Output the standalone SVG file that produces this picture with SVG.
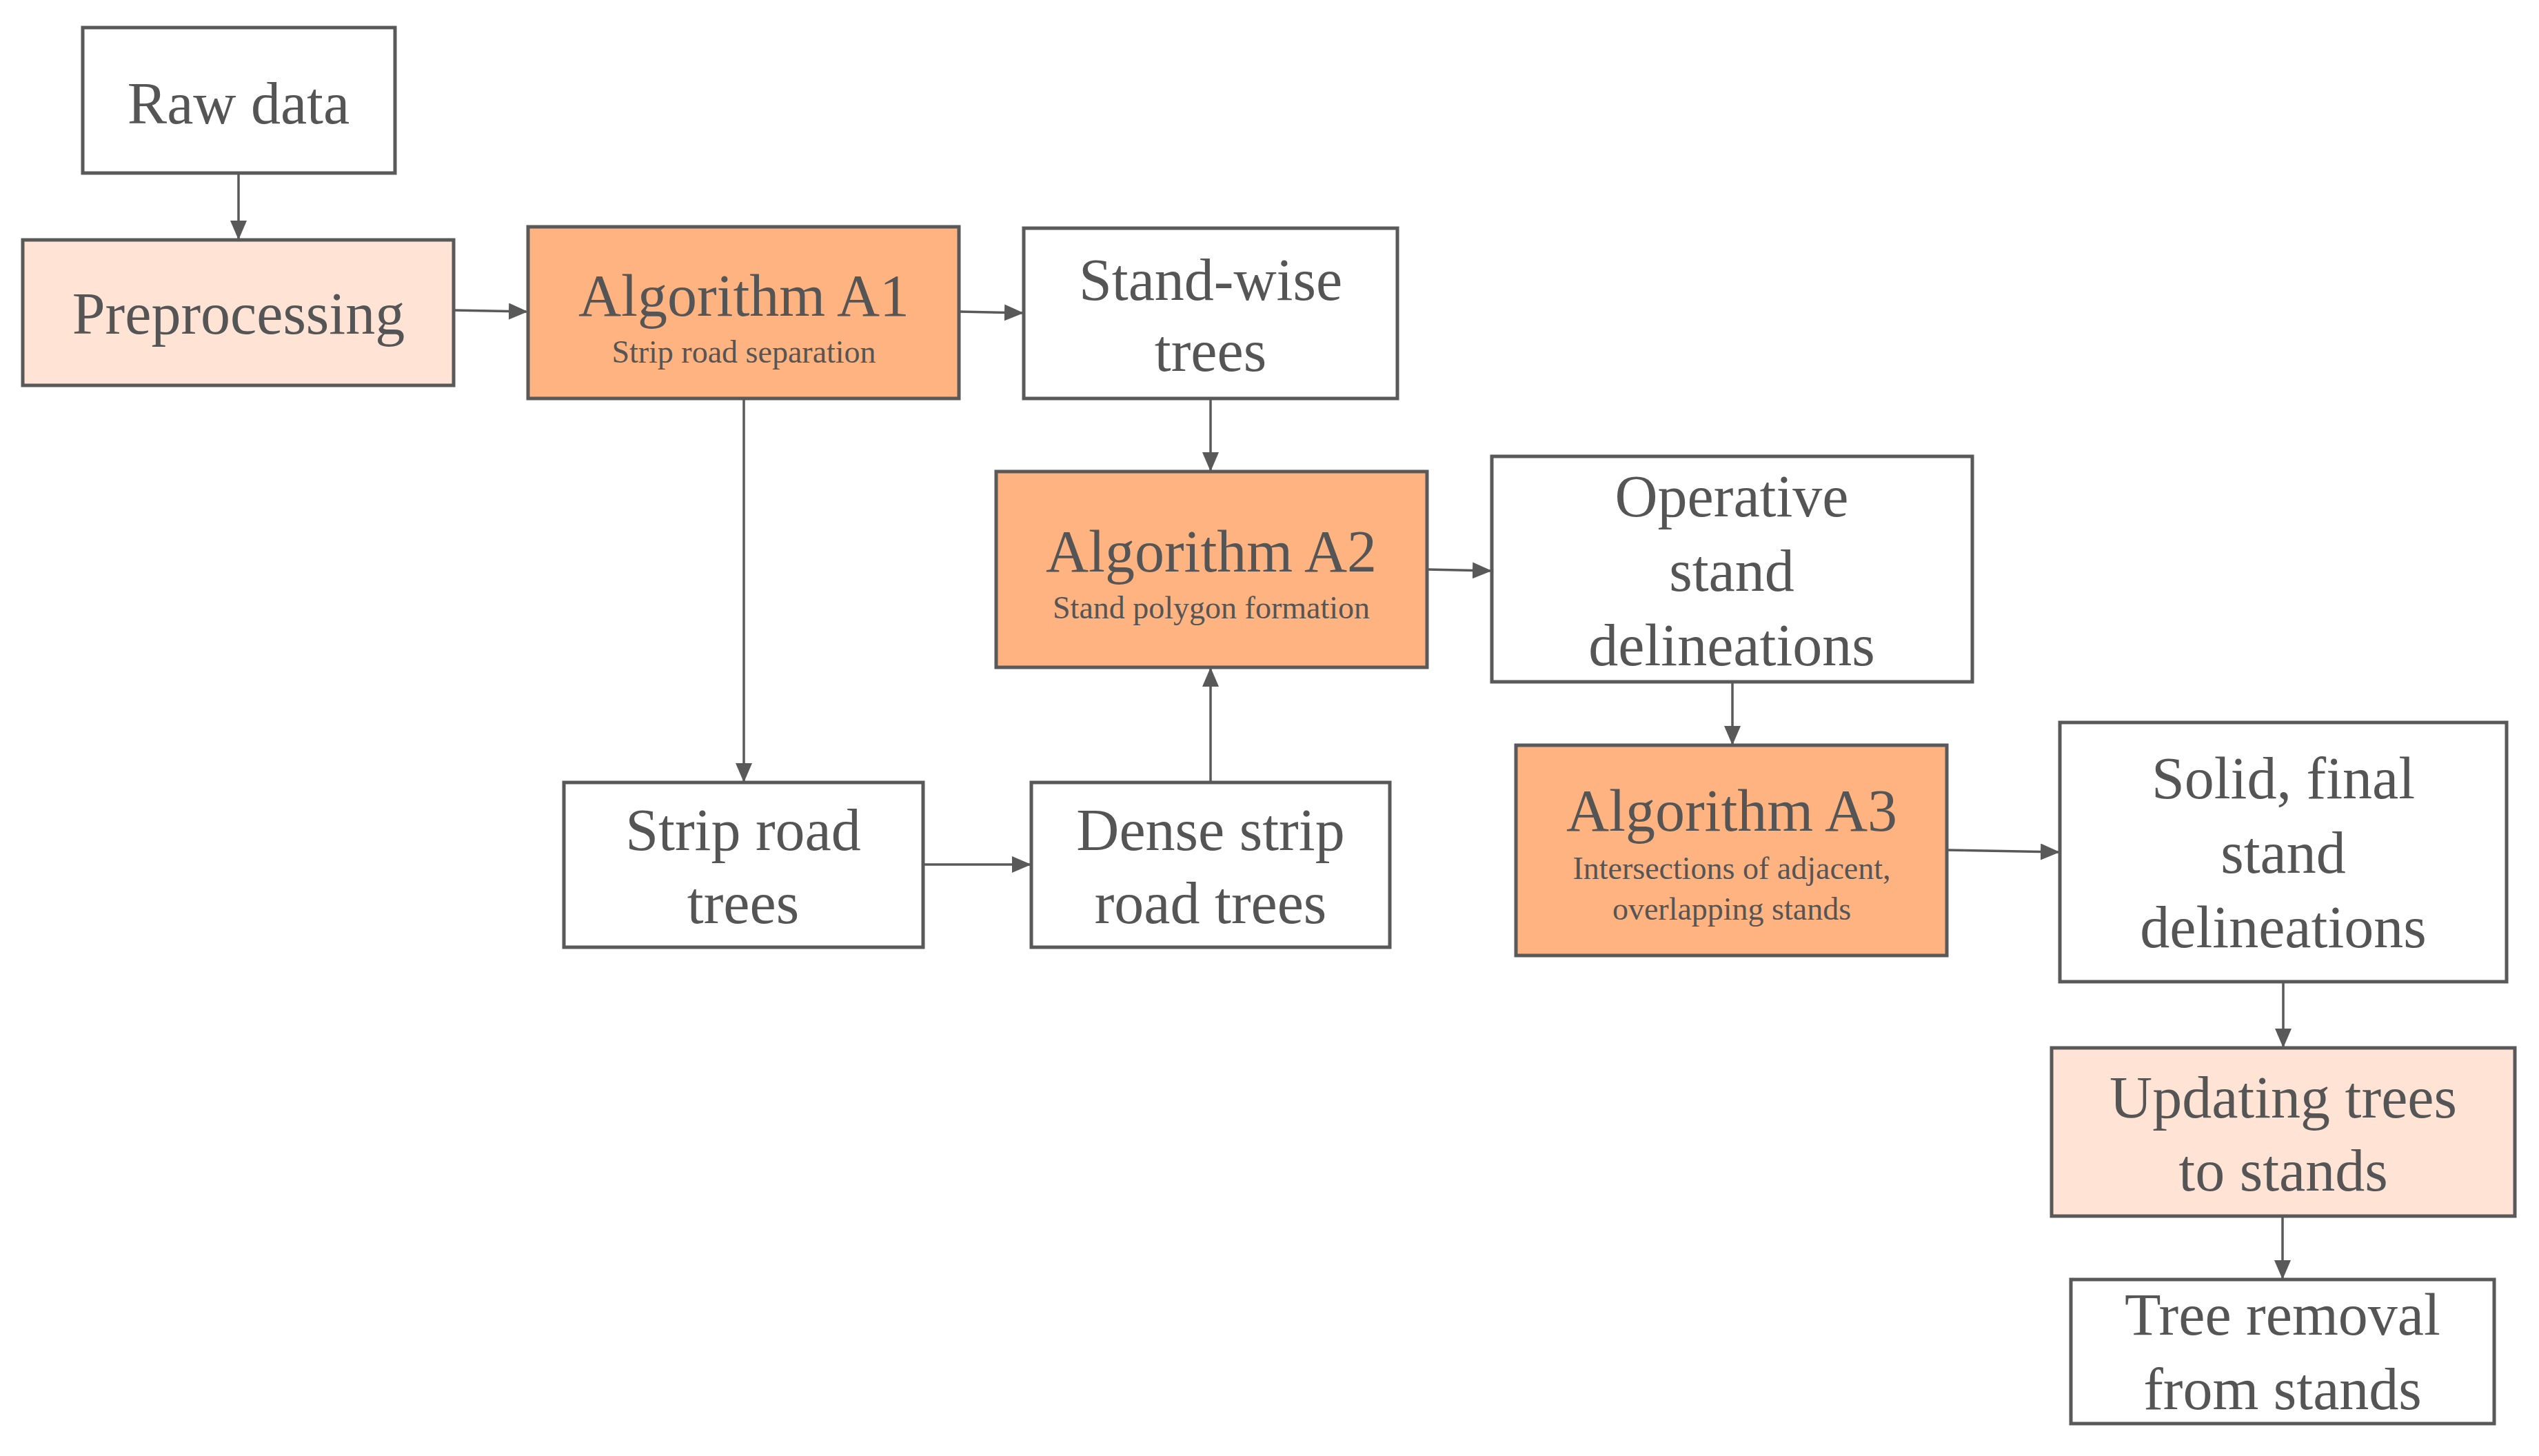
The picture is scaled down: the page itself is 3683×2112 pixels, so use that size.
<svg xmlns="http://www.w3.org/2000/svg" width="3683" height="2112" viewBox="0 0 3683 2112">
<style>
.b{stroke:#595959;stroke-width:5;fill:#fff}
.a{fill:#FFB380}
.l{fill:#FFE4D6}
text{font-family:"Liberation Serif",serif;fill:#555;text-anchor:middle}
.t{font-size:86px}
.s{font-size:46px}
.c{stroke:#595959;stroke-width:3.5;fill:none;marker-end:url(#ah)}
</style>
<defs><marker id="ah" markerUnits="userSpaceOnUse" markerWidth="28" markerHeight="24" refX="26" refY="12" orient="auto"><path d="M0,0L28,12L0,24z" fill="#595959"/></marker></defs>
<rect width="3683" height="2112" fill="#fff"/>
<g id="connectors">
<line class="c" x1="346" y1="251" x2="346" y2="346"/>
<line class="c" x1="658" y1="450" x2="764" y2="452"/>
<line class="c" x1="1391" y1="452" x2="1483" y2="454"/>
<line class="c" x1="1079" y1="578" x2="1079" y2="1133"/>
<line class="c" x1="1756" y1="578" x2="1756" y2="682"/>
<line class="c" x1="1339" y1="1254" x2="1494" y2="1254"/>
<line class="c" x1="1756" y1="1135" x2="1756" y2="970"/>
<line class="c" x1="2070" y1="826" x2="2162" y2="828"/>
<line class="c" x1="2513" y1="989" x2="2513" y2="1079"/>
<line class="c" x1="2824" y1="1233" x2="2986" y2="1236"/>
<line class="c" x1="3312" y1="1424" x2="3312" y2="1518"/>
<line class="c" x1="3311" y1="1764" x2="3311" y2="1854"/>
</g>
<g id="raw"><rect class="b" x="120" y="40" width="453" height="211"/><text class="t" x="346" y="179">Raw data</text></g>
<g id="pre"><rect class="b l" x="33" y="348" width="625" height="211"/><text class="t" x="346" y="484">Preprocessing</text></g>
<g id="a1"><rect class="b a" x="766" y="329" width="625" height="249"/><text class="t" x="1079" y="458">Algorithm A1</text><text class="s" x="1079" y="526">Strip road separation</text></g>
<g id="standwise"><rect class="b" x="1485" y="331" width="542" height="247"/><text class="t" x="1756" y="435">Stand-wise</text><text class="t" x="1756" y="538">trees</text></g>
<g id="a2"><rect class="b a" x="1445" y="684" width="625" height="284"/><text class="t" x="1757" y="829">Algorithm A2</text><text class="s" x="1757" y="897">Stand polygon formation</text></g>
<g id="operative"><rect class="b" x="2164" y="662" width="697" height="327"/><text class="t" x="2512" y="749">Operative</text><text class="t" x="2512" y="857">stand</text><text class="t" x="2512" y="965">delineations</text></g>
<g id="strip"><rect class="b" x="818" y="1135" width="521" height="239"/><text class="t" x="1078" y="1233">Strip road</text><text class="t" x="1078" y="1339">trees</text></g>
<g id="dense"><rect class="b" x="1496" y="1135" width="520" height="239"/><text class="t" x="1756" y="1233">Dense strip</text><text class="t" x="1756" y="1339">road trees</text></g>
<g id="a3"><rect class="b a" x="2199" y="1081" width="625" height="305"/><text class="t" x="2512" y="1205">Algorithm A3</text><text class="s" x="2512" y="1275">Intersections of adjacent,</text><text class="s" x="2512" y="1334">overlapping stands</text></g>
<g id="solid"><rect class="b" x="2988" y="1048" width="648" height="376"/><text class="t" x="3312" y="1158">Solid, final</text><text class="t" x="3312" y="1266">stand</text><text class="t" x="3312" y="1374">delineations</text></g>
<g id="updating"><rect class="b l" x="2976" y="1520" width="672" height="244"/><text class="t" x="3312" y="1621">Updating trees</text><text class="t" x="3312" y="1727">to stands</text></g>
<g id="removal"><rect class="b" x="3004" y="1856" width="614" height="209"/><text class="t" x="3311" y="1936">Tree removal</text><text class="t" x="3311" y="2044">from stands</text></g>
</svg>
